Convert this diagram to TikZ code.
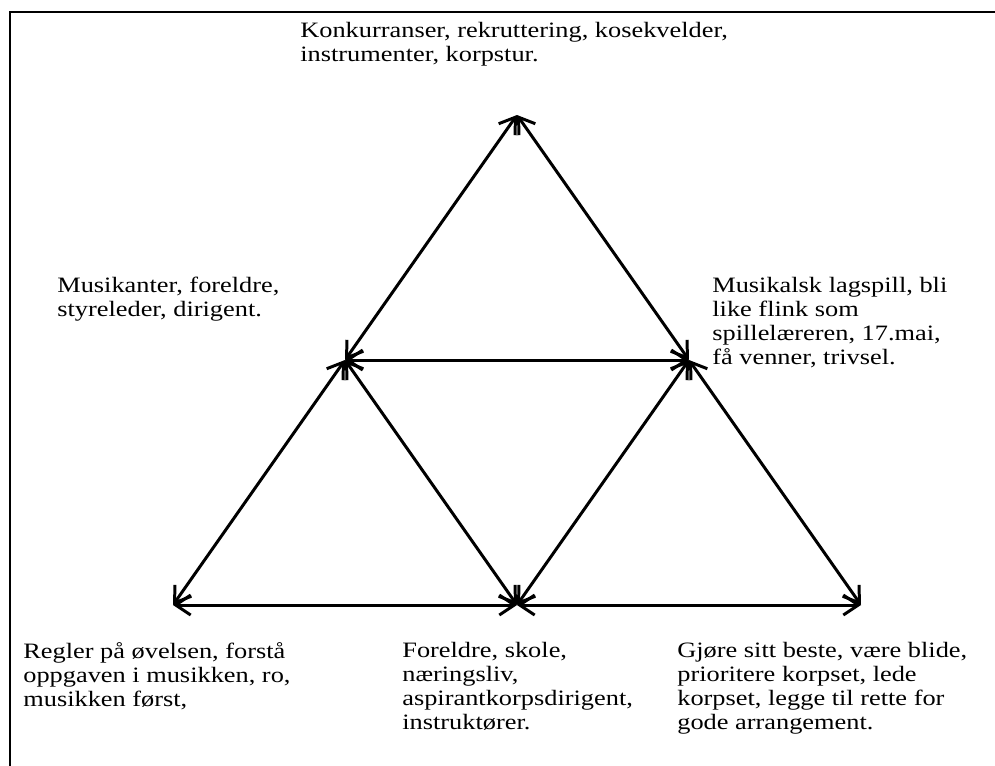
\documentclass[tikz,border=0pt]{standalone}
\usepackage{fontspec}
\setmainfont{Liberation Serif}[FakeStretch=1.2]
\usetikzlibrary{arrows.meta}

\begin{document}
\begin{tikzpicture}[x=0.02cm,y=-0.02cm]
		\tikzstyle{invisible} = [outer sep=0,inner sep=0,minimum size=0]
		\tikzstyle{both} = [{Straight Barb[length=0.3cm,width=0.4cm]}-{Straight Barb[length=0.3cm,width=0.4cm]}, line width=1.7pt]
		\tikzstyle{note} = [anchor=north west, inner sep=0, align=left, font=\fontsize{12.5}{13.66}\selectfont]
		
		\useasboundingbox (0,0) rectangle (995,765);
		\draw [line width=1.7pt] (10,790) |- (1020,12);
		
		\node [invisible] (v1) at (517,115) {};
		\node [invisible] (v2) at (345,360) {};
		\node [invisible] (v3) at (689,360) {};
		\node [invisible] (v4) at (173,605) {};
		\node [invisible] (v5) at (517,605) {};
		\node [invisible] (v6) at (861,605) {};
		\draw [both] (v1) edge (v2);
		\draw [both] (v1) edge (v3);
		\draw [both] (v2) edge (v3);
		\draw [both] (v2) edge (v4);
		\draw [both] (v2) edge (v5);
		\draw [both] (v3) edge (v5);
		\draw [both] (v3) edge (v6);
		\draw [both] (v4) edge (v5);
		\draw [both] (v5) edge (v6);
		
		\node [note] (t1) at (300,22) {Konkurranser, rekruttering, kosekvelder,\\instrumenter, korpstur.};
		\node [note] (t2) at (57,277) {Musikanter, foreldre,\\styreleder, dirigent.};
		\node [note] (t3) at (712,277) {Musikalsk lagspill, bli\\like flink som\\spillelæreren, 17.mai,\\få venner, trivsel.};
		\node [note] (t4) at (23,642) {Regler på øvelsen, forstå\\oppgaven i musikken, ro,\\musikken først,};
		\node [note] (t5) at (402,642) {Foreldre, skole,\\næringsliv,\\aspirantkorpsdirigent,\\instruktører.};
		\node [note] (t6) at (677,642) {Gjøre sitt beste, være blide,\\prioritere korpset, lede\\korpset, legge til rette for\\gode arrangement.};
\end{tikzpicture}
\end{document}
